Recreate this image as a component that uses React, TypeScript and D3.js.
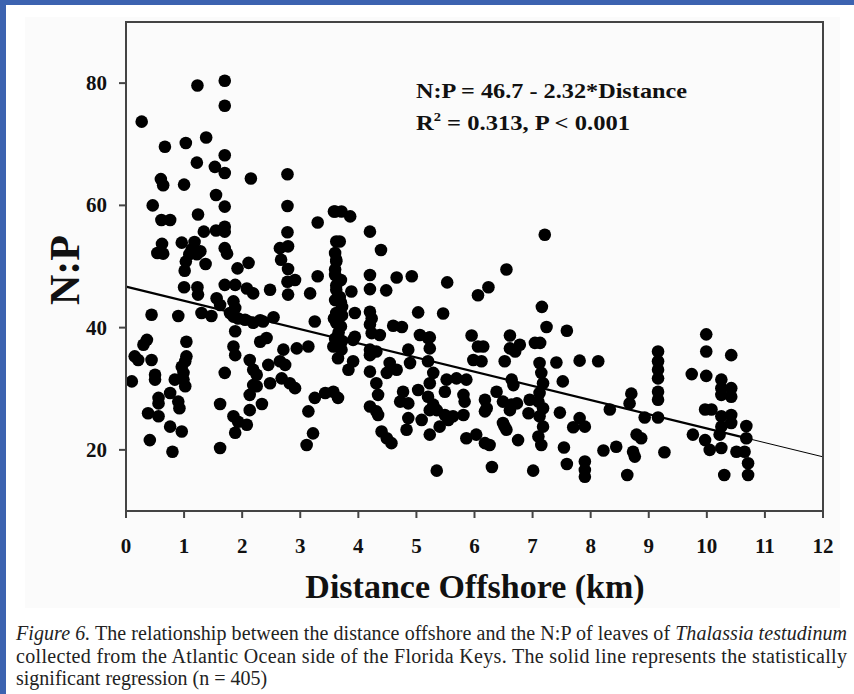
import React from "react";
import * as d3 from "d3";

// Distance offshore (km) of each sample
const distance: number[] = [
  0.27,1.23,1.70,1.70,0.67,1.03,1.38,1.70,1.22,1.53,1.70,0.60,0.64,1.00,2.15,2.78,1.55,0.46,1.70,2.78,
  1.24,0.61,0.76,3.30,3.58,1.34,1.55,1.70,1.70,2.78,0.62,0.96,1.18,1.13,1.22,1.09,1.28,0.54,0.64,1.70,
  1.74,2.65,2.79,2.67,2.79,3.62,3.60,3.62,3.60,1.03,1.37,1.01,1.92,2.11,3.30,2.78,2.91,1.00,1.23,1.70,
  1.88,2.08,2.48,
  1.24,2.19,2.79,3.17,1.56,1.62,1.85,1.88,1.79,1.85,1.30,1.47,0.44,0.90,1.93,2.05,2.19,2.31,2.36,2.54,
  3.25,1.88,1.04,0.36,0.30,2.31,2.42,1.85,1.88,2.71,2.94,3.14,0.15,0.21,0.44,1.04,1.02,2.13,2.19,2.25,
  2.45,2.65,2.74,0.96,0.99,0.50,0.50,1.70,0.10,0.84,0.99,1.02,2.19,2.25,2.48,2.68,2.82,2.91,0.76,2.13,
  0.56,0.56,0.90,0.92,1.62,2.34,2.13,3.25,3.43,3.57,3.65,0.38,0.56,1.85,1.93,2.08,0.76,0.96,3.14,1.88,
  3.22,3.11,0.41,1.62,0.80,
  3.62,3.70,3.62,3.70,3.62,3.72,3.62,3.66,3.60,3.68,3.60,3.72,3.58,3.70,3.60,3.72,3.57,3.71,3.65,3.62,
  3.60,3.71,3.86,4.20,3.68,4.39,7.21,4.20,4.66,4.92,3.88,4.20,4.48,5.53,6.55,6.24,6.06,3.94,4.20,4.23,
  4.20,4.23,4.37,5.03,5.46,4.60,4.75,3.94,5.06,5.23,5.95,6.61,7.16,7.24,
  3.60,3.91,3.91,3.83,4.20,4.20,4.31,4.20,4.54,4.66,4.49,4.31,4.34,4.20,4.31,4.34,4.89,4.86,5.20,5.23,
  5.20,5.29,5.23,5.20,5.29,5.23,4.77,4.72,4.86,5.03,4.86,5.09,4.83,4.40,4.49,4.57,5.35,5.49,5.40,5.23,
  5.55,5.63,5.81,5.52,5.49,5.69,5.86,5.81,5.83,6.06,6.15,5.98,6.12,6.38,6.18,6.21,6.18,5.86,6.03,6.18,
  6.26,5.35,6.30,7.01,6.61,6.78,6.70,6.52,7.04,6.64,6.67,6.49,6.64,6.73,6.61,6.95,6.93,6.49,6.55,6.52,
  6.75,7.12,7.15,7.18,7.12,7.10,7.18,7.12,7.18,7.10,7.15,
  7.59,7.13,7.41,7.81,8.13,7.52,7.47,7.81,7.70,7.90,7.54,7.59,7.90,7.90,7.90,8.33,8.70,8.67,8.93,9.16,
  9.16,9.16,9.16,9.16,9.16,9.16,8.22,8.44,8.79,8.87,8.73,8.76,8.63,9.27,9.99,9.99,10.42,9.74,9.99,10.25,
  10.25,10.42,10.42,10.25,9.97,10.08,10.25,10.42,10.42,10.25,10.22,9.76,9.97,10.05,10.25,10.68,10.68,10.65,10.51,10.71,
  10.71,10.30,
];

// N:P ratio of each sample
const np: number[] = [
  73.7,79.6,80.4,76.3,69.6,70.2,71.1,68.2,67.0,66.3,65.3,64.3,63.3,63.4,64.4,65.1,61.7,60.0,59.8,59.9,
  58.5,57.6,57.6,57.2,59.0,55.7,55.9,56.5,55.7,55.6,53.7,53.9,54.0,52.8,52.0,52.0,52.5,52.2,52.1,53.0,
  52.1,53.0,53.3,51.1,49.6,54.1,52.2,51.1,49.5,50.8,50.4,49.3,49.7,50.6,48.4,47.5,47.8,46.6,46.6,47.0,
  47.0,46.4,46.2,
  45.4,45.6,45.4,45.6,44.8,43.7,44.3,43.2,42.4,41.8,42.4,41.9,42.1,41.9,41.5,41.3,40.8,41.2,41.0,41.7,
  41.0,39.4,37.7,38.0,37.2,37.7,38.3,36.9,35.5,36.4,36.6,36.9,35.3,34.7,34.7,35.3,34.5,34.7,33.1,32.3,
  33.9,34.5,33.9,33.6,32.6,32.3,31.5,32.6,31.2,31.5,31.5,30.4,30.6,30.4,30.9,31.7,30.9,30.1,29.3,29.0,
  28.5,27.6,27.9,26.8,27.5,27.5,26.5,28.5,29.3,29.5,28.5,26.0,25.5,25.5,24.6,24.1,23.8,23.0,26.3,22.8,
  22.7,20.8,21.6,20.3,19.7,
  50.8,47.8,46.2,44.1,42.4,43.4,40.8,39.2,48.6,45.0,44.5,42.0,41.5,40.2,38.2,37.8,36.9,36.4,35.0,46.9,
  59.0,59.0,58.2,55.7,54.1,52.7,55.2,48.6,48.2,48.4,45.9,46.3,46.1,47.4,49.5,46.6,45.3,42.4,42.6,41.5,
  40.5,39.1,38.8,42.5,42.3,40.3,40.1,38.5,38.8,38.4,38.7,38.7,43.4,40.1,
  37.0,38.0,34.5,33.1,36.4,35.5,36.1,32.8,34.2,33.1,32.6,30.9,29.0,27.1,26.3,25.7,34.2,36.4,38.3,36.6,
  34.5,32.6,30.9,28.7,27.4,26.5,29.5,27.9,27.6,29.8,25.2,24.9,23.3,23.0,21.9,21.1,26.5,25.7,23.8,22.5,
  24.9,25.5,25.7,31.5,29.5,31.7,31.5,29.0,27.9,36.9,36.9,34.7,34.5,29.5,28.2,26.8,26.3,21.9,22.5,21.1,
  20.8,16.6,17.2,16.6,36.6,37.2,36.1,34.5,37.5,31.5,30.6,27.9,27.4,27.6,26.5,28.2,26.0,24.4,23.3,23.8,
  21.6,34.2,32.6,30.9,29.3,27.9,26.8,25.5,23.8,22.2,20.8,
  39.5,37.5,34.3,34.6,34.5,31.2,26.1,25.2,23.7,23.8,20.4,17.7,18.1,16.7,15.6,26.6,29.2,27.6,25.3,25.3,
  36.1,34.5,33.1,31.7,29.5,28.2,19.9,20.5,22.5,21.9,19.7,18.9,15.9,19.6,38.9,36.1,35.5,32.4,32.1,31.5,
  30.1,30.1,28.7,29.0,26.6,26.6,25.5,25.7,24.4,23.8,22.5,22.5,21.6,20.0,20.3,23.9,21.9,19.7,19.7,17.8,
  15.9,15.9,
];

const xTicks: number[] = [0,1,2,3,4,5,6,7,8,9,10,11,12];
const yTicks: number[] = [20,40,60,80];
const intercept = 46.7;
const slope = -2.32;
const dataMaxX = 10.7;

const serif = "'Liberation Serif', 'Times New Roman', serif";

export default function App() {
  const x = d3.scaleLinear().domain([0, 12]).range([126, 823]);
  const y = d3.scaleLinear().domain([10, 90]).range([511, 22]);
  const fit = (d: number) => intercept + slope * d;
  const line = d3.line<number>().x((d) => x(d)).y((d) => y(fit(d)));

  return (
    <div style={{ position: "fixed", left: 0, top: 0 }}>
      <svg width={854} height={694} style={{ display: "block" }}>
        <rect x={0} y={0} width={854} height={694} fill="#3c63b0" />
        <rect x={6} y={5} width={848} height={689} fill="#ffffff" />
        <rect x={25} y={17} width={815} height={591} fill="#fbfbfb" />

        {/* dots */}
        {distance.map((d, i) => (
          <circle key={i} cx={x(d)} cy={y(np[i])} r={6.3} fill="#000" />
        ))}

        {/* regression */}
        <path d={line([0, dataMaxX]) || ""} stroke="#000" strokeWidth={2.2} fill="none" />
        <path d={line([dataMaxX, 12]) || ""} stroke="#000" strokeWidth={1} fill="none" />

        {/* frame */}
        <rect x={x(0)} y={y(90)} width={x(12) - x(0)} height={y(10) - y(90)} fill="none" stroke="#444" strokeWidth={2} />

        {/* x ticks */}
        {xTicks.map((t) => (
          <g key={t}>
            <line x1={x(t)} x2={x(t)} y1={y(10)} y2={y(10) + 7} stroke="#444" strokeWidth={2} />
            <text x={x(t)} y={553} textAnchor="middle" fontFamily={serif} fontWeight="bold" fontSize={21} fill="#111">{t}</text>
          </g>
        ))}
        {/* y ticks */}
        {yTicks.map((t) => (
          <g key={t}>
            <line x1={x(0) - 7} x2={x(0)} y1={y(t)} y2={y(t)} stroke="#444" strokeWidth={2} />
            <text x={107} y={y(t) + 7} textAnchor="end" fontFamily={serif} fontWeight="bold" fontSize={21} fill="#111">{t}</text>
          </g>
        ))}

        {/* axis titles */}
        <text transform="translate(79,270) rotate(-90)" textAnchor="middle" fontFamily={serif} fontWeight="bold" fontSize={42} fill="#111">N:P</text>
        <text x={475} y={598} textAnchor="middle" fontFamily={serif} fontWeight="bold" fontSize={34} fill="#111">Distance Offshore (km)</text>

        {/* annotation */}
        <text x={416} y={98} fontFamily={serif} fontWeight="bold" fontSize={22} fill="#111" textLength={271} lengthAdjust="spacingAndGlyphs">N:P = 46.7 - 2.32*Distance</text>
        <text x={416} y={130} fontFamily={serif} fontWeight="bold" fontSize={22} fill="#111" textLength={214} lengthAdjust="spacingAndGlyphs">
          R<tspan dy={-9} fontSize={13}>2</tspan><tspan dy={9}> = 0.313, P &lt; 0.001</tspan>
        </text>

        {/* caption */}
        <text x={16} y={640} fontFamily={serif} fontSize={20} fill="#222" textLength={831} lengthAdjust="spacing">
          <tspan fontStyle="italic">Figure 6.</tspan>
          <tspan>{"  The relationship between the distance offshore and the N:P of leaves of "}</tspan>
          <tspan fontStyle="italic">Thalassia testudinum</tspan>
        </text>
        <text x={16} y={662.5} fontFamily={serif} fontSize={20} fill="#222" textLength={831} lengthAdjust="spacing">
          collected from the Atlantic Ocean side of the Florida Keys. The solid line represents the statistically
        </text>
        <text x={16} y={685} fontFamily={serif} fontSize={20} fill="#222">
          significant regression (n = 405)
        </text>
      </svg>
    </div>
  );
}
